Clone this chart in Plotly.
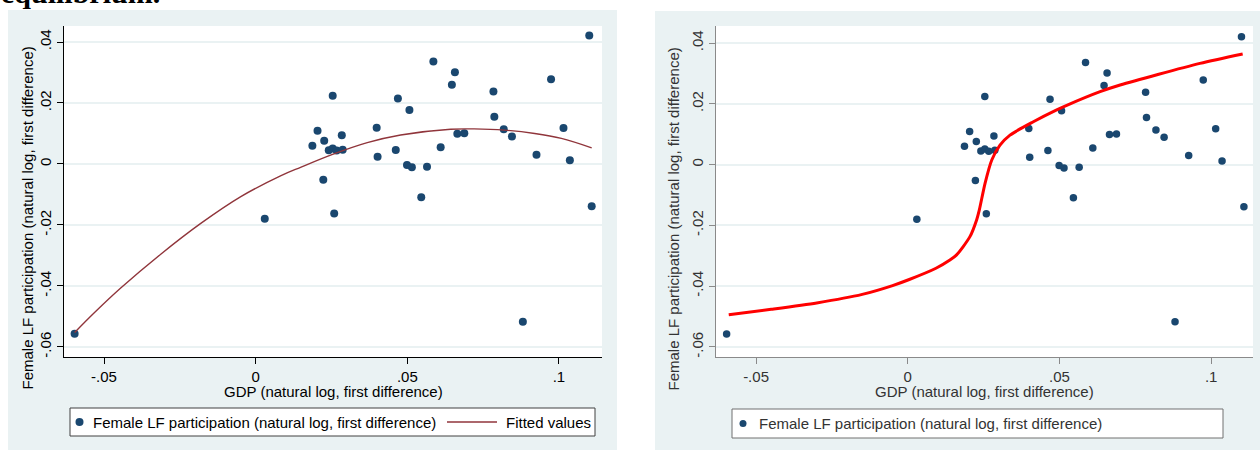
import plotly.graph_objects as go

W, H = 1260, 450

# ---------------- data ----------------
gdp_diff = [0.0187, 0.0204, 0.0226, 0.0223, 0.0254, 0.0259, 0.0241, 0.0254, 0.0267, 0.0287,
            0.0284, 0.0399, 0.0402, 0.0462, 0.0469, 0.0507, 0.0499, 0.0515, 0.0565, 0.0546,
            0.0586, 0.0610, 0.0647, 0.0657, 0.0665, 0.0688, 0.0784, 0.0787, 0.0818, 0.0845,
            0.0926, 0.0974, 0.1015, 0.1036, 0.1100, 0.1108, 0.0881, -0.0597, 0.0030]
flfp_diff = [0.0060, 0.0109, 0.0076, -0.0052, 0.0224, -0.0162, 0.0045, 0.0051, 0.0044, 0.0047,
             0.0094, 0.0119, 0.0024, 0.0046, 0.0215, 0.0177, -0.0003, -0.0011, -0.0009, -0.0109,
             0.0336, 0.0055, 0.0260, 0.0301, 0.0099, 0.0101, 0.0238, 0.0155, 0.0114, 0.0090,
             0.0030, 0.0278, 0.0118, 0.0012, 0.0421, -0.0139, -0.0517, -0.0557, -0.0180]

# fitted (quadratic) line, left panel
fit_x = [-0.0597, -0.0533, -0.0445, -0.0313, -0.0181, -0.0049, 0.0082, 0.0148, 0.0258,
         0.0368, 0.0478, 0.0643, 0.0720, 0.0820, 0.0920, 0.1008, 0.1108]
fit_y = [-0.0553, -0.0489, -0.0407, -0.0296, -0.0195, -0.0107, -0.0039, -0.0011, 0.0033,
         0.0070, 0.0095, 0.0114, 0.0115, 0.0111, 0.0100, 0.0084, 0.0053]

# red curve, right panel
curve_x = [-0.0590, -0.0450, -0.0300, -0.0150, -0.0050, 0.0005, 0.0093, 0.0139, 0.0161, 0.0205,
           0.0227, 0.0236, 0.0255, 0.0277, 0.0304, 0.0337, 0.0414, 0.0491, 0.0524, 0.0634,
           0.0700, 0.0963, 0.1104]
curve_y = [-0.0494, -0.0476, -0.0455, -0.0427, -0.0398, -0.0378, -0.0341, -0.0314, -0.0297, -0.0237,
           -0.0182, -0.0149, -0.0061, 0.0015, 0.0064, 0.0097, 0.0141, 0.0180, 0.0195, 0.0240,
           0.0262, 0.0333, 0.0364]

x_tick_vals = [-0.05, 0, 0.05, 0.1]
x_tick_text = ["-.05", "0", ".05", ".1"]
y_tick_vals = [-0.06, -0.04, -0.02, 0, 0.02, 0.04]
y_tick_text = ["-.06", "-.04", "-.02", "0", ".02", ".04"]

x_title = "GDP (natural log, first difference)"
y_title = "Female LF participation (natural log, first difference)"
series_name = "Female LF participation (natural log, first difference)"
fit_name = "Fitted values"

# ---------------- style ----------------
BG = "#EAF2F3"
NAVY = "#1A476F"
MAROON = "#90353B"
FONT = "Liberation Sans, Arial, sans-serif"


def X(px):
    return px / W


def Y(py):
    return 1 - py / H


fig = go.Figure()

# left panel
fig.add_trace(go.Scatter(x=gdp_diff, y=flfp_diff, mode="markers", name=series_name,
                         marker=dict(color=NAVY, size=8, line=dict(width=0)),
                         xaxis="x", yaxis="y", showlegend=False, hoverinfo="skip"))
fig.add_trace(go.Scatter(x=fit_x, y=fit_y, mode="lines", name=fit_name,
                         line=dict(color=MAROON, width=1.4, shape="spline", smoothing=1.0),
                         xaxis="x", yaxis="y", showlegend=False, hoverinfo="skip"))
# right panel
fig.add_trace(go.Scatter(x=gdp_diff, y=flfp_diff, mode="markers", name=series_name,
                         marker=dict(color=NAVY, size=7.5, line=dict(width=0)),
                         xaxis="x2", yaxis="y2", showlegend=False, hoverinfo="skip"))
fig.add_trace(go.Scatter(x=curve_x, y=curve_y, mode="lines", name="curve",
                         line=dict(color="#FF0000", width=3, shape="spline", smoothing=0.7),
                         xaxis="x2", yaxis="y2", showlegend=False, hoverinfo="skip"))


def xaxis_cfg(domain, rng, linecol, fontcol):
    return dict(domain=domain, range=rng, tickvals=x_tick_vals, ticktext=x_tick_text,
                ticks="outside", ticklen=6, tickcolor=linecol, tickwidth=1,
                showline=True, linecolor=linecol, linewidth=1, showgrid=False,
                zeroline=False, tickfont=dict(family=FONT, size=15, color=fontcol),
                fixedrange=True)


def yaxis_cfg(domain, rng, linecol, fontcol, anchor):
    return dict(domain=domain, range=rng, tickvals=y_tick_vals, ticktext=y_tick_text,
                ticks="outside", ticklen=6, tickcolor=linecol, tickwidth=1,
                tickangle=-90, showline=True, linecolor=linecol, linewidth=1,
                showgrid=True, gridcolor=BG, gridwidth=1.5, zeroline=False,
                tickfont=dict(family=FONT, size=15, color=fontcol), anchor=anchor,
                fixedrange=True)


ydom = [Y(357), Y(26)]
xa1 = xaxis_cfg([X(64), X(602)], [-0.0632, 0.1142], "#000000", "#000000")
xa1["anchor"] = "y"
ya1 = yaxis_cfg(ydom, [-0.0633, 0.04525], "#000000", "#000000", "x")
xa2 = xaxis_cfg([X(716), X(1253)], [-0.0632, 0.1138], "#8a8a8a", "#333333")
xa2["anchor"] = "y2"
ya2 = yaxis_cfg(ydom, [-0.0633, 0.0456], "#8a8a8a", "#333333", "x2")

shapes = []
# outer panel backgrounds
shapes.append(dict(type="rect", xref="paper", yref="paper", x0=X(8), x1=X(617), y0=Y(450), y1=Y(10),
                   fillcolor=BG, line=dict(width=0), layer="below"))
shapes.append(dict(type="rect", xref="paper", yref="paper", x0=X(655), x1=X(1260), y0=Y(450), y1=Y(11),
                   fillcolor=BG, line=dict(width=0), layer="below"))
# white plot regions
shapes.append(dict(type="rect", xref="paper", yref="paper", x0=X(64), x1=X(602), y0=Y(357), y1=Y(26),
                   fillcolor="white", line=dict(width=0), layer="below"))
shapes.append(dict(type="rect", xref="paper", yref="paper", x0=X(716), x1=X(1253), y0=Y(357), y1=Y(26),
                   fillcolor="white", line=dict(width=0), layer="below"))
# legend boxes
shapes.append(dict(type="rect", xref="paper", yref="paper", x0=X(70), x1=X(595), y0=Y(436), y1=Y(408),
                   fillcolor="white", line=dict(color="#404040", width=1), layer="below"))
shapes.append(dict(type="rect", xref="paper", yref="paper", x0=X(732), x1=X(1223), y0=Y(438), y1=Y(409),
                   fillcolor="white", line=dict(color="#707070", width=1), layer="below"))
# legend symbols
shapes.append(dict(type="circle", xref="paper", yref="paper", x0=X(75.5), x1=X(83.5), y0=Y(426), y1=Y(418),
                   fillcolor=NAVY, line=dict(width=0)))
shapes.append(dict(type="line", xref="paper", yref="paper", x0=X(447), x1=X(497), y0=Y(422), y1=Y(422),
                   line=dict(color=MAROON, width=1.5)))
shapes.append(dict(type="circle", xref="paper", yref="paper", x0=X(739.5), x1=X(746.5), y0=Y(427), y1=Y(420),
                   fillcolor=NAVY, line=dict(width=0)))

annotations = []


def txt(text, px, py, size=15, color="#000000", xanchor="center", angle=0, family=FONT):
    annotations.append(dict(text=text, x=X(px), y=Y(py), xref="paper", yref="paper",
                            xanchor=xanchor, yanchor="middle", showarrow=False, textangle=angle,
                            borderpad=0, font=dict(family=family, size=size, color=color)))


txt(x_title, 333, 391)
txt(x_title, 984, 391, color="#333333")
txt(y_title, 27, 218.5, angle=-90)
txt(y_title, 673, 219.5, angle=-90, color="#333333")
txt(series_name, 92, 422, xanchor="left")
txt(fit_name, 505, 422, xanchor="left")
txt(series_name, 758, 423.5, xanchor="left", color="#333333")
# clipped text of the surrounding page
annotations.append(dict(text="<b>equilibrium.</b>", x=0, y=Y(-8), xref="paper", yref="paper",
                        xanchor="left", yanchor="middle", showarrow=False, borderpad=0,
                        font=dict(family="Liberation Serif, Times New Roman, serif", size=30, color="#000000")))

fig.update_layout(
    width=W, height=H,
    margin=dict(l=0, r=0, t=0, b=0, autoexpand=False),
    paper_bgcolor="white",
    plot_bgcolor="rgba(0,0,0,0)",
    xaxis=xa1, yaxis=ya1, xaxis2=xa2, yaxis2=ya2,
    shapes=shapes, annotations=annotations,
    showlegend=False,
    font=dict(family=FONT),
)

fig.write_html("out.html", config={"displayModeBar": False},
               post_script="document.body.style.margin='0';document.body.style.overflow='hidden';")
